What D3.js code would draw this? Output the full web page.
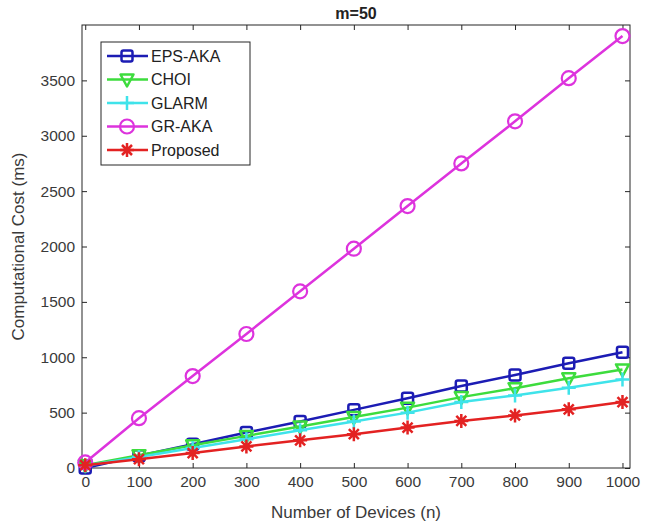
<!DOCTYPE html>
<html>
<head>
<meta charset="utf-8">
<script src="https://cdn.jsdelivr.net/npm/d3@7"></script>
<style>
  body { margin: 0; background: #fff; }
  text { font-family: "Liberation Sans", Arial, sans-serif; }
</style>
</head>
<body>
<div class="canvas"></div>
<script>
// data
const devices = [0, 100, 200, 300, 400, 500, 600, 700, 800, 900, 1000];
const epsAka   = [0, 110, 215, 320, 420, 525, 630, 740, 840, 945, 1045];
const choi     = [25, 115, 205, 290, 375, 460, 545, 640, 720, 810, 890];
const glarm    = [20, 100, 180, 260, 340, 420, 500, 595, 655, 725, 800];
const grAka    = [50, 450, 830, 1210, 1595, 1980, 2365, 2750, 3130, 3520, 3900];
const proposed = [25, 80, 135, 195, 250, 305, 365, 425, 475, 530, 595];
const xTicks = [0, 100, 200, 300, 400, 500, 600, 700, 800, 900, 1000];
const yTicks = [0, 500, 1000, 1500, 2000, 2500, 3000, 3500];

const series = [
  { name: 'EPS-AKA', values: epsAka, color: '#1c1cb4', marker: 'square' },
  { name: 'CHOI', values: choi, color: '#3ddc3d', marker: 'triangle' },
  { name: 'GLARM', values: glarm, color: '#3fe3ea', marker: 'plus' },
  { name: 'GR-AKA', values: grAka, color: '#dd33dd', marker: 'circle' },
  { name: 'Proposed', values: proposed, color: '#e32222', marker: 'star' }
];

const width = 652, height = 526;
const margin = { top: 25, right: 22, bottom: 58, left: 82 };
const plotW = width - margin.left - margin.right;
const plotH = height - margin.top - margin.bottom;

const svg = d3.select('.canvas')
  .append('svg')
  .attr('width', width)
  .attr('height', height);

const graph = svg.append('g')
  .attr('transform', `translate(${margin.left},${margin.top})`);

// scales
const x = d3.scaleLinear().domain([-6, 1014]).range([0, plotW]);
const y = d3.scaleLinear().domain([0, 4000]).range([plotH, 0]);

// axes, ticks pointing inward like matlab
const axisColor = '#262626';
const xAxis = d3.axisBottom(x).tickValues(xTicks).tickSizeInner(-5).tickSizeOuter(0)
  .tickPadding(8).tickFormat(d3.format('d'));
const yAxis = d3.axisLeft(y).tickValues(yTicks).tickSizeInner(-5).tickSizeOuter(0)
  .tickPadding(7).tickFormat(d3.format('d'));
const xTop = d3.axisTop(x).tickValues(xTicks).tickSizeInner(-5).tickSizeOuter(0).tickFormat('');
const yRight = d3.axisRight(y).tickValues(yTicks).tickSizeInner(-5).tickSizeOuter(0).tickFormat('');

const styleAxis = g => {
  g.select('.domain').remove();
  g.selectAll('line').attr('stroke', axisColor);
  g.selectAll('text').attr('fill', '#3a3a3a').style('font-size', '15.5px');
};

graph.append('g').attr('transform', `translate(0,${plotH})`).call(xAxis).call(styleAxis);
graph.append('g').call(yAxis).call(styleAxis);
graph.append('g').call(xTop).call(styleAxis);
graph.append('g').attr('transform', `translate(${plotW},0)`).call(yRight).call(styleAxis);

graph.append('rect')
  .attr('width', plotW).attr('height', plotH)
  .attr('fill', 'none').attr('stroke', axisColor).attr('stroke-width', 1);

// marker drawing
const drawMarker = (sel, type, color) => {
  if (type === 'square') {
    sel.append('rect').attr('x', -5.5).attr('y', -5.5).attr('width', 11).attr('height', 11)
      .attr('rx', 2).attr('fill', 'none').attr('stroke', color).attr('stroke-width', 2.5);
  } else if (type === 'circle') {
    sel.append('circle').attr('r', 7).attr('fill', 'none').attr('stroke', color).attr('stroke-width', 2.2);
  } else if (type === 'triangle') {
    sel.append('path').attr('d', 'M-6.5,-5 L6.5,-5 L0,7 Z')
      .attr('fill', 'none').attr('stroke', color).attr('stroke-width', 2.5).attr('stroke-linejoin', 'round');
  } else if (type === 'plus') {
    sel.append('path').attr('d', 'M-7,0 L7,0 M0,-7 L0,7')
      .attr('stroke', color).attr('stroke-width', 2.5);
  } else if (type === 'star') {
    sel.append('path').attr('d', 'M-7,0 L7,0 M0,-7 L0,7 M-5,-5 L5,5 M-5,5 L5,-5')
      .attr('stroke', color).attr('stroke-width', 2.5);
  }
};

const line = d3.line()
  .x((d, i) => x(devices[i]))
  .y(d => y(d));

const lines = graph.append('g');
series.forEach(s => {
  lines.append('path')
    .datum(s.values)
    .attr('d', line)
    .attr('fill', 'none')
    .attr('stroke', s.color)
    .attr('stroke-width', 2.5);

  lines.selectAll(null)
    .data(s.values)
    .enter()
    .append('g')
    .attr('transform', (d, i) => `translate(${x(devices[i])},${y(d)})`)
    .each(function () { drawMarker(d3.select(this), s.marker, s.color); });
});

// legend
const legend = graph.append('g').attr('transform', 'translate(19,17)');
legend.append('rect')
  .attr('width', 149).attr('height', 123)
  .attr('fill', '#fff').attr('stroke', axisColor).attr('stroke-width', 1);

series.forEach((s, i) => {
  const row = legend.append('g').attr('transform', `translate(0,${14 + i * 23.5})`);
  row.append('line').attr('x1', 6).attr('x2', 47).attr('y1', 0).attr('y2', 0)
    .attr('stroke', s.color).attr('stroke-width', 2.5);
  const m = row.append('g').attr('transform', 'translate(26,0)');
  drawMarker(m, s.marker, s.color);
  row.append('text').attr('x', 50).attr('y', 5.5)
    .attr('fill', '#222').style('font-size', '16px').text(s.name);
});

// title and labels
svg.append('text')
  .attr('x', margin.left + plotW / 2).attr('y', 19)
  .attr('text-anchor', 'middle')
  .style('font-size', '16px').style('font-weight', 'bold').attr('fill', '#222')
  .text('m=50');

svg.append('text')
  .attr('x', margin.left + plotW / 2).attr('y', 518)
  .attr('text-anchor', 'middle')
  .style('font-size', '17px').attr('fill', '#3a3a3a')
  .text('Number of Devices (n)');

svg.append('text')
  .attr('transform', `translate(24,${margin.top + plotH / 2}) rotate(-90)`)
  .attr('text-anchor', 'middle')
  .style('font-size', '17px').attr('fill', '#3a3a3a')
  .text('Computational Cost (ms)');
</script>
</body>
</html>
